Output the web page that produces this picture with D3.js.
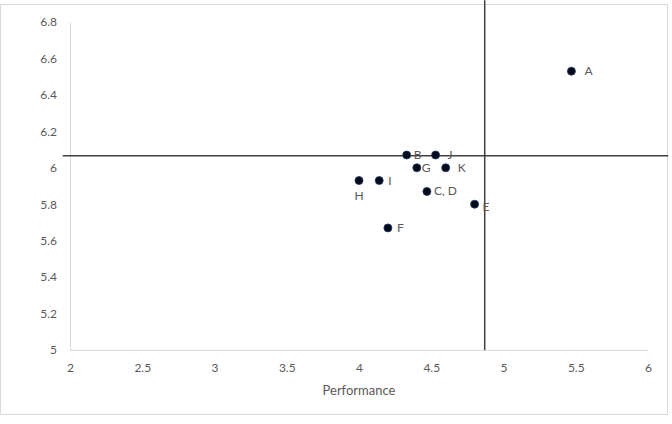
<!DOCTYPE html>
<html>
<head>
<meta charset="utf-8">
<script src="https://cdn.jsdelivr.net/npm/d3@7"></script>
<style>
  body { margin: 0; background: #fff; }
  text { font-family: Lato, "Open Sans", sans-serif; fill: #595959; }
</style>
</head>
<body>
<div id="chart"></div>
<script>
// point data
const labels = ['A', 'B', 'J', 'G', 'K', 'H', 'I', 'C, D', 'E', 'F'];
const performance = [5.47, 4.33, 4.53, 4.40, 4.60, 4.00, 4.14, 4.47, 4.80, 4.20];
const yValues = [6.53, 6.07, 6.07, 6.00, 6.00, 5.93, 5.93, 5.87, 5.80, 5.67];
const xTicks = [2, 2.5, 3, 3.5, 4, 4.5, 5, 5.5, 6];
const yTicks = [5, 5.2, 5.4, 5.6, 5.8, 6, 6.2, 6.4, 6.6, 6.8];
// cross lines (means)
const meanX = 4.87;
const meanY = 6.066;

const width = 672, height = 424;
const padding = {left: 70, right: 24, top: 22, bottom: 74};

// label placement (style only): dx, dy from the marker
const labelOffset = {
  'A': [13, 4], 'B': [7, 4], 'J': [12, 4], 'G': [5, 4], 'K': [12, 4],
  'H': [0, 19], 'I': [9, 4], 'C, D': [7, 4], 'E': [8, 7], 'F': [9, 4]
};

const svg = d3.select('#chart').append('svg')
  .attr('width', width).attr('height', height);

// outer frame
svg.append('rect')
  .attr('x', 0.5).attr('y', 4.5)
  .attr('width', 667).attr('height', 410)
  .attr('fill', 'none').attr('stroke', '#d9d9d9');

const xScale = d3.scaleLinear().domain([2, 6])
  .range([padding.left, width - padding.right]);
const yScale = d3.scaleLinear().domain([5, 6.8])
  .range([height - padding.bottom, padding.top]);

// axes: light lines, no ticks
const xAxis = svg.append('g')
  .attr('transform', 'translate(0,' + yScale(5) + ')')
  .call(d3.axisBottom(xScale).tickValues(xTicks).tickSize(0).tickPadding(13)
    .tickFormat(d => String(d)));
const yAxis = svg.append('g')
  .attr('transform', 'translate(' + xScale(2) + ',0)')
  .call(d3.axisLeft(yScale).tickValues(yTicks).tickSize(0).tickPadding(13)
    .tickFormat(d => String(d)));
[xAxis, yAxis].forEach(a => {
  a.select('.domain').attr('stroke', '#d9d9d9');
  a.selectAll('text').attr('font-size', 12).attr('fill', '#595959')
    .style('font-family', 'Lato, "Open Sans", sans-serif');
});

svg.append('text')
  .attr('x', xScale(4)).attr('y', 395)
  .attr('text-anchor', 'middle')
  .attr('font-size', 13)
  .text('Performance');

// cross lines
svg.append('line')
  .attr('x1', xScale(1.95)).attr('x2', xScale(6.14))
  .attr('y1', yScale(meanY)).attr('y2', yScale(meanY))
  .attr('stroke', '#404040').attr('stroke-width', 1.5);
svg.append('line')
  .attr('x1', xScale(meanX)).attr('x2', xScale(meanX))
  .attr('y1', yScale(5)).attr('y2', yScale(6.92))
  .attr('stroke', '#404040').attr('stroke-width', 1.5);

// points
const pts = labels.map((l, i) => ({label: l, x: performance[i], y: yValues[i]}));

svg.selectAll('.pt')
  .data(pts)
  .enter()
  .append('circle')
  .attr('class', 'pt')
  .attr('cx', d => xScale(d.x))
  .attr('cy', d => yScale(d.y))
  .attr('r', 4)
  .attr('fill', '#050a18')
  .attr('stroke', '#1f3a6a')
  .attr('stroke-width', 0.8);

svg.selectAll('.lbl')
  .data(pts)
  .enter()
  .append('text')
  .attr('class', 'lbl')
  .attr('x', d => xScale(d.x) + labelOffset[d.label][0])
  .attr('y', d => yScale(d.y) + labelOffset[d.label][1])
  .attr('text-anchor', d => d.label === 'H' ? 'middle' : 'start')
  .attr('font-size', 12)
  .text(d => d.label);
</script>
</body>
</html>
